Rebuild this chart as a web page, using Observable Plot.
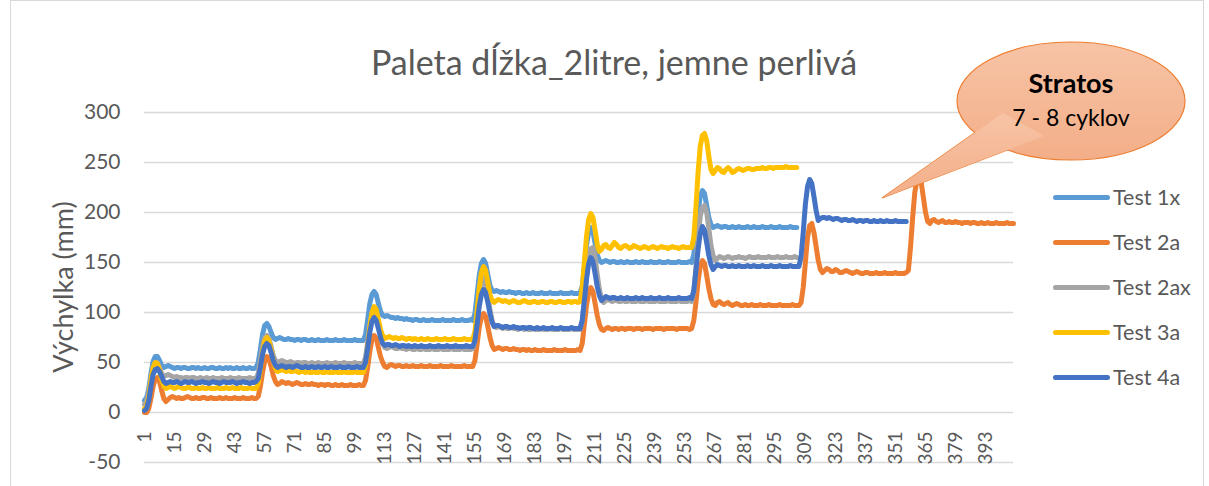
<!DOCTYPE html>
<html>
<head>
<meta charset="utf-8">
<script src="https://cdn.jsdelivr.net/npm/d3@7"></script>
<script src="https://cdn.jsdelivr.net/npm/@observablehq/plot@0.6"></script>
<style>
  body { margin: 0; background: #fff; }
  #wrap { position: relative; width: 1209px; height: 486px; overflow: hidden; font-family: Lato, "Open Sans", "DejaVu Sans", sans-serif; color: #595959; }
  #wrap svg.plot { position: absolute; left: 0; top: 0; }
  .abs { position: absolute; white-space: nowrap; }
  #frame { position: absolute; left: 10px; top: 0px; width: 1194px; height: 500px; border: 1px solid #d9d9d9; box-sizing: border-box; }
  #title { left: 614px; top: 61px; transform: translate(-50%, -50%); font-size: 34px; color: #595959; }
  #ytitle { left: 62px; top: 287px; transform: translate(-50%, -50%) rotate(-90deg); font-size: 27px; color: #595959; }
  .leg { position: absolute; left: 1053px; height: 30px; display: flex; align-items: center; }
  .leg .sw { width: 57px; height: 5px; border-radius: 3px; margin-right: 3px; }
  .leg .lb { font-size: 21.5px; color: #595959; }
  #callout { position: absolute; left: 0; top: 0; }
</style>
</head>
<body>
<div id="wrap">
  <div id="frame"></div>
</div>
<script>
// ---------- data ----------
const seriesNames = ["Test 1x", "Test 2a", "Test 2ax", "Test 3a", "Test 4a"];
const seriesColors = ["#5B9BD5", "#ED7D31", "#A5A5A5", "#FFC000", "#4472C4"];
const xTickLabels = [1, 15, 29, 43, 57, 71, 85, 99, 113, 127, 141, 155, 169, 183, 197, 211, 225, 239, 253, 267, 281, 295, 309, 323, 337, 351, 365, 379, 393];
const yTicks = [-50, 0, 50, 100, 150, 200, 250, 300];
const categoryCount = 406;

const test1x = [
  12, 15, 24, 39, 51, 56, 56, 52, 47, 45,
  46, 47, 46, 45, 44, 45, 45, 44, 45, 45,
  44, 44, 45, 45, 44, 45, 44, 44, 45, 44,
  44, 45, 45, 44, 44, 45, 44, 44, 45, 44,
  45, 44, 44, 45, 44, 44, 45, 44, 44, 45,
  44, 44, 45,
  50, 63, 78, 87, 89, 86, 80, 75, 73, 74,
  75, 74, 73, 73, 74, 73, 73, 72, 73, 73,
  72, 73, 73, 72, 72, 73, 72, 72, 73, 72,
  72, 72, 73, 72, 72, 72, 73, 72, 72, 72,
  73, 72, 72, 72, 72, 73, 72, 72, 72, 72,
  78, 93, 109, 118, 121, 118, 109, 101, 97, 96,
  97, 96, 95, 95, 94, 95, 94, 94, 93, 94,
  93, 93, 92, 93, 93, 92, 92, 93, 92, 92,
  92, 93, 92, 92, 92, 92, 93, 92, 92, 92,
  92, 93, 92, 92, 92, 93, 92, 92, 92, 93, 92,
  99, 118, 137, 149, 153, 149, 138, 127, 122, 121,
  122, 121, 120, 121, 120, 120, 121, 120, 120, 119,
  120, 120, 119, 119, 120, 119, 119, 120, 119, 119,
  119, 120, 119, 119, 119, 120, 119, 119, 119, 119,
  120, 119, 119, 119, 119, 120, 119, 119, 119, 120,
  126, 146, 167, 180, 185, 181, 169, 158, 152, 150,
  151, 152, 151, 150, 151, 151, 150, 150, 151, 150,
  150, 151, 150, 150, 150, 151, 150, 150, 151, 150,
  150, 150, 151, 150, 150, 150, 151, 150, 150, 150,
  151, 150, 150, 150, 150, 151, 150, 150, 150, 150, 151, 150,
  158, 178, 200, 216, 222, 219, 207, 195, 188, 185,
  186, 187, 186, 185, 186, 186, 185, 185, 186, 185,
  185, 186, 185, 185, 185, 186, 185, 185, 186, 185,
  185, 185, 186, 185, 185, 185, 186, 185, 185, 185,
  186, 185, 185, 185, 185, 186, 185, 185, 185
];

const test2a = [
  0, 0, 4, 14, 26, 33, 35, 31, 22, 14,
  11, 13, 15, 16, 15, 14, 15, 14, 14, 15,
  16, 15, 14, 14, 15, 14, 14, 15, 15, 14,
  14, 15, 14, 14, 14, 15, 14, 14, 15, 14,
  14, 14, 15, 14, 14, 14, 15, 14, 14, 14,
  15, 14, 14,
  16, 26, 40, 51, 56, 54, 46, 37, 31, 28,
  29, 31, 30, 29, 30, 29, 28, 29, 30, 29,
  28, 28, 29, 28, 28, 29, 28, 28, 27, 28,
  28, 27, 28, 28, 27, 27, 28, 27, 27, 28,
  27, 27, 27, 28, 27, 27, 27, 28, 27, 27,
  32, 45, 61, 73, 77, 74, 65, 56, 50, 46,
  45, 47, 48, 47, 46, 47, 47, 46, 46, 47,
  46, 46, 47, 46, 46, 46, 47, 46, 46, 46,
  47, 46, 46, 46, 46, 47, 46, 46, 46, 46,
  47, 46, 46, 46, 46, 46, 47, 46, 46, 46, 46,
  52, 68, 85, 95, 99, 96, 86, 75, 67, 63,
  64, 65, 64, 63, 64, 64, 63, 63, 64, 63,
  63, 62, 63, 63, 62, 63, 62, 62, 63, 62,
  62, 62, 63, 62, 62, 62, 62, 63, 62, 62,
  62, 62, 63, 62, 62, 62, 62, 62, 63, 62,
  69, 88, 107, 120, 125, 121, 109, 97, 88, 83,
  82, 84, 85, 84, 83, 84, 84, 83, 84, 84,
  83, 84, 84, 84, 83, 84, 84, 84, 83, 84,
  84, 84, 84, 83, 84, 84, 84, 84, 83, 84,
  84, 84, 84, 84, 83, 84, 84, 84, 84, 84, 83, 84,
  92, 110, 131, 146, 152, 149, 137, 124, 114, 108,
  107, 110, 111, 109, 108, 109, 110, 108, 107, 108,
  109, 108, 107, 107, 108, 107, 107, 108, 107, 107,
  107, 108, 107, 107, 107, 108, 107, 107, 107, 107,
  108, 107, 107, 107, 107, 107, 108, 107, 107, 107,
  110, 125, 150, 175, 187, 189, 180, 166, 152, 143,
  140, 142, 144, 143, 141, 141, 143, 142, 140, 140,
  141, 142, 141, 140, 139, 140, 141, 140, 139, 139,
  140, 140, 139, 139, 139, 140, 139, 139, 139, 140,
  139, 139, 139, 139, 140, 139, 139, 139, 139, 140,
  142, 165, 195, 220, 232, 235, 230, 215, 200, 191,
  189, 192, 193, 191, 190, 191, 192, 190, 190, 191,
  190, 190, 191, 190, 190, 189, 190, 190, 190, 189,
  190, 190, 189, 189, 190, 189, 189, 190, 189, 189,
  189, 190, 189, 189, 189, 189, 190, 189, 189, 189
];

const test2ax = [
  8, 11, 20, 34, 45, 50, 50, 45, 39, 36,
  37, 38, 37, 36, 35, 36, 35, 35, 34, 35,
  35, 34, 35, 35, 34, 34, 35, 34, 34, 35,
  34, 34, 35, 34, 34, 34, 35, 34, 34, 34,
  35, 34, 34, 34, 35, 34, 34, 34, 34, 35,
  34, 34, 34,
  39, 52, 66, 75, 77, 74, 66, 57, 52, 50,
  51, 52, 51, 50, 50, 51, 50, 49, 50, 50,
  49, 50, 50, 49, 49, 50, 49, 49, 50, 49,
  49, 49, 50, 49, 49, 49, 50, 49, 49, 49,
  50, 49, 49, 49, 49, 50, 49, 49, 49, 49,
  55, 70, 87, 99, 103, 100, 90, 78, 69, 65,
  64, 65, 66, 65, 64, 64, 65, 64, 64, 63,
  64, 64, 63, 63, 64, 63, 63, 64, 63, 63,
  63, 64, 63, 63, 63, 64, 63, 63, 63, 63,
  64, 63, 63, 63, 63, 64, 63, 63, 63, 63, 64,
  71, 90, 112, 128, 135, 131, 118, 103, 92, 86,
  85, 86, 85, 84, 85, 84, 84, 85, 84, 84,
  83, 84, 84, 83, 84, 83, 83, 84, 83, 83,
  83, 84, 83, 83, 83, 84, 83, 83, 83, 83,
  84, 83, 83, 83, 83, 84, 83, 83, 83, 83,
  91, 112, 137, 156, 164, 165, 155, 138, 123, 114,
  110, 112, 113, 112, 111, 112, 112, 111, 111, 112,
  111, 111, 112, 111, 111, 111, 112, 111, 111, 111,
  112, 111, 111, 111, 111, 112, 111, 111, 111, 111,
  112, 111, 111, 111, 111, 112, 111, 111, 111, 111, 112, 111,
  120, 145, 174, 196, 205, 207, 200, 184, 167, 157,
  152, 154, 156, 155, 154, 155, 156, 155, 154, 155,
  155, 156, 155, 155, 154, 155, 156, 155, 155, 155,
  156, 155, 155, 155, 155, 156, 155, 155, 155, 156,
  155, 155, 155, 156, 155, 155, 155, 156, 155
];

const test3a = [
  4, 6, 16, 32, 45, 50, 49, 43, 33, 26,
  24, 25, 26, 25, 24, 25, 26, 25, 24, 24,
  25, 25, 24, 24, 25, 24, 24, 25, 24, 24,
  25, 24, 24, 24, 25, 24, 24, 24, 25, 24,
  24, 25, 24, 24, 24, 25, 24, 24, 24, 25,
  24, 24, 24,
  29, 43, 59, 71, 75, 72, 63, 52, 44, 41,
  42, 43, 42, 41, 42, 41, 41, 42, 41, 40,
  41, 41, 40, 41, 40, 40, 41, 40, 40, 41,
  40, 40, 41, 40, 40, 40, 41, 40, 40, 40,
  41, 40, 40, 40, 40, 41, 40, 40, 40, 40,
  47, 64, 85, 100, 106, 103, 93, 83, 77, 74,
  75, 76, 75, 74, 75, 74, 74, 75, 74, 73,
  74, 74, 73, 74, 73, 73, 74, 73, 73, 74,
  73, 73, 73, 74, 73, 73, 73, 74, 73, 73,
  73, 74, 73, 73, 73, 73, 74, 73, 73, 73, 73,
  81, 101, 124, 140, 146, 142, 130, 118, 112, 110,
  112, 113, 112, 111, 112, 111, 110, 111, 112, 111,
  110, 110, 111, 112, 111, 110, 110, 111, 111, 110,
  110, 111, 111, 110, 110, 111, 111, 110, 110, 111,
  111, 110, 110, 111, 111, 110, 111, 111, 110, 111,
  125, 150, 176, 193, 199, 195, 182, 168, 161, 163,
  167, 168, 165, 164, 167, 170, 168, 165, 164, 166,
  167, 166, 164, 165, 167, 166, 165, 164, 165, 166,
  165, 164, 165, 166, 165, 164, 165, 166, 165, 165,
  164, 165, 166, 165, 165, 164, 165, 166, 165, 165, 165, 165,
  175, 205, 240, 266, 277, 279, 272, 256, 243, 239,
  242, 245, 244, 241, 240, 243, 245, 243, 240, 241,
  243, 244, 243, 242, 243, 244, 244, 243, 243, 244,
  244, 244, 245, 244, 244, 245, 245, 244, 245, 245,
  245, 245, 245, 246, 245, 245, 245, 245, 245
];

const test4a = [
  2, 4, 12, 26, 38, 43, 44, 41, 36, 31,
  29, 30, 31, 30, 30, 31, 30, 29, 30, 31,
  30, 30, 31, 30, 29, 30, 30, 31, 30, 30,
  29, 30, 31, 30, 30, 29, 30, 31, 30, 30,
  30, 31, 30, 29, 30, 30, 31, 30, 30, 29,
  30, 30, 31,
  34, 45, 58, 66, 69, 67, 60, 52, 47, 45,
  46, 47, 46, 45, 46, 46, 45, 46, 47, 46,
  45, 45, 46, 45, 45, 46, 45, 45, 46, 45,
  45, 46, 45, 45, 46, 45, 45, 45, 46, 45,
  45, 45, 46, 45, 45, 45, 46, 45, 45, 45,
  50, 64, 80, 91, 95, 92, 84, 75, 69, 67,
  68, 68, 67, 67, 68, 67, 66, 67, 67, 66,
  67, 66, 66, 67, 66, 66, 67, 66, 66, 66,
  67, 66, 66, 66, 67, 66, 66, 66, 67, 66,
  66, 66, 67, 66, 66, 66, 66, 67, 66, 66, 66,
  72, 88, 106, 118, 123, 120, 110, 99, 90, 86,
  87, 87, 86, 85, 86, 86, 85, 85, 86, 85,
  85, 84, 85, 85, 84, 85, 85, 84, 84, 85,
  84, 84, 85, 84, 84, 84, 85, 84, 84, 84,
  85, 84, 84, 84, 84, 85, 84, 84, 84, 84,
  92, 112, 133, 149, 155, 151, 139, 126, 117, 112,
  114, 116, 115, 114, 115, 115, 114, 114, 115, 114,
  114, 115, 114, 114, 114, 115, 114, 114, 115, 114,
  114, 114, 115, 114, 114, 114, 115, 114, 114, 114,
  115, 114, 114, 114, 114, 115, 114, 114, 114, 114, 115, 114,
  122, 142, 163, 179, 186, 182, 170, 157, 148, 143,
  146, 148, 147, 146, 147, 147, 146, 146, 147, 146,
  146, 147, 146, 146, 146, 147, 146, 146, 147, 146,
  146, 146, 147, 146, 146, 146, 147, 146, 146, 146,
  147, 146, 146, 146, 146, 147, 146, 146, 146, 146,
  156, 180, 208, 226, 233, 229, 216, 202, 192, 194,
  195, 195, 194, 195, 194, 193, 194, 194, 193, 192,
  193, 193, 192, 192, 193, 192, 191, 192, 192, 191,
  192, 192, 191, 191, 192, 191, 191, 192, 191, 191,
  192, 191, 191, 191, 192, 191, 191, 191, 191, 191
];

const seriesValues = [test1x, test2a, test2ax, test3a, test4a];
const expected = [305, 406, 305, 305, 356];
seriesValues.forEach((arr, i) => {
  if (arr.length !== expected[i]) throw new Error(seriesNames[i] + " length " + arr.length);
});

// ---------- build rows ----------
const rows = seriesNames.map((name, i) =>
  seriesValues[i].map((v, j) => ({series: name, cat: j + 1, value: v}))
);

const chart = Plot.plot({
  width: 1209,
  height: 486,
  marginLeft: 144,
  marginRight: 196,
  marginTop: 112,
  marginBottom: 24,
  x: {type: "linear", domain: [1, categoryCount], axis: null},
  y: {domain: [-50, 300], axis: null},
  color: {domain: seriesNames, range: seriesColors},
  style: {fontFamily: 'Lato, "Open Sans", sans-serif', background: "transparent", color: "#595959", overflow: "visible"},
  marks: [
    Plot.ruleY(yTicks, {stroke: "#d9d9d9", strokeWidth: 1.3, strokeOpacity: 1}),
    Plot.axisY(yTicks, {tickSize: 0, tickPadding: 24, fontSize: 21, fill: "#595959", label: null, tickFormat: d => String(d)}),
    Plot.text(xTickLabels, {x: d => d, y: () => 0, text: d => String(d), rotate: -90, textAnchor: "end", dy: 19, fontSize: 19, fill: "#595959"}),
    ...rows.map(r => Plot.line(r, {x: "cat", y: "value", stroke: "series", strokeWidth: 5, strokeLinejoin: "round", strokeLinecap: "round"}))
  ]
});

const wrap = document.getElementById("wrap");
wrap.appendChild(chart);

// title & axis title
const title = document.createElement("div");
title.className = "abs"; title.id = "title";
title.textContent = "Paleta dĺžka_2litre, jemne perlivá";
wrap.appendChild(title);

const ytitle = document.createElement("div");
ytitle.className = "abs"; ytitle.id = "ytitle";
ytitle.textContent = "Výchylka (mm)";
wrap.appendChild(ytitle);

// legend
const legendTops = [182, 227, 272, 317, 362];
seriesNames.forEach((name, i) => {
  const item = document.createElement("div");
  item.className = "leg";
  item.style.top = legendTops[i] + "px";
  item.innerHTML = `<div class="sw" style="background:${seriesColors[i]}"></div><div class="lb">${name}</div>`;
  wrap.appendChild(item);
});

// callout annotation
const ns = "http://www.w3.org/2000/svg";
const svg = document.createElementNS(ns, "svg");
svg.setAttribute("id", "callout");
svg.setAttribute("width", 1209);
svg.setAttribute("height", 486);
svg.innerHTML = `
  <defs>
    <linearGradient id="cg" x1="0" y1="0" x2="0" y2="1">
      <stop offset="0" stop-color="#f7c4a6"/>
      <stop offset="1" stop-color="#f3ae88"/>
    </linearGradient>
  </defs>
  <polygon points="882,198 1003,113 1044,136" fill="url(#cg)" stroke="#ED7D31" stroke-width="1.2" stroke-linejoin="miter"/>
  <ellipse cx="1071" cy="101" rx="114" ry="59" fill="url(#cg)" stroke="#ED7D31" stroke-width="1.2"/>
  <polygon points="882,198 1003,113 1044,136" fill="url(#cg)" stroke="none"/>
  <text x="1071" y="93" text-anchor="middle" font-family="Lato, 'Open Sans', sans-serif" font-weight="bold" font-size="27" fill="#000">Stratos</text>
  <text x="1071" y="126" text-anchor="middle" font-family="Lato, 'Open Sans', sans-serif" font-size="23" fill="#000">7 - 8 cyklov</text>
`;
wrap.appendChild(svg);
</script>
</body>
</html>
